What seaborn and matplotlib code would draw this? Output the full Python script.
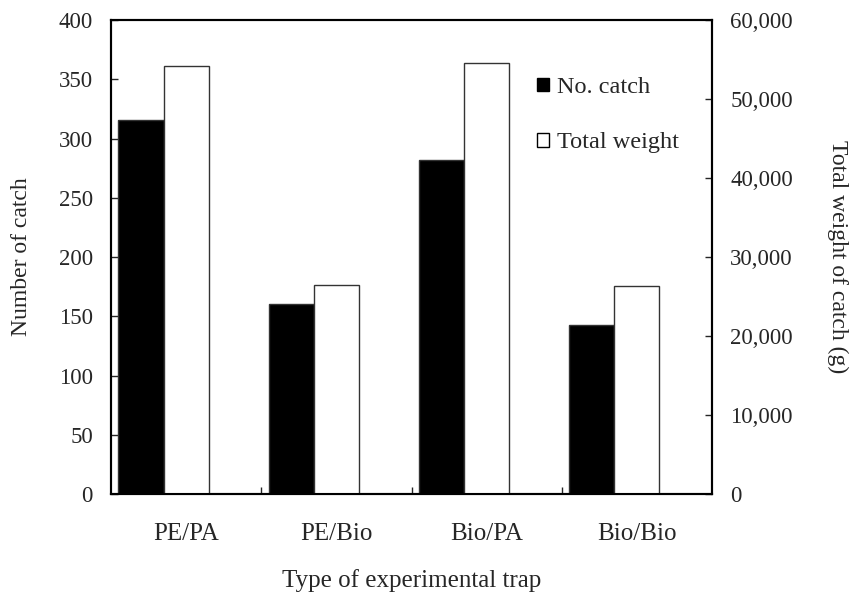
import pandas as pd
import matplotlib
matplotlib.use("Agg")
import matplotlib.pyplot as plt
from matplotlib.patches import Patch
from matplotlib.ticker import FuncFormatter, FixedLocator
import seaborn as sns

traps = ["PE/PA", "PE/Bio", "Bio/PA", "Bio/Bio"]
no_catch = [316, 160, 282, 143]
total_weight = [54200, 26500, 54500, 26350]
series = ["No. catch", "Total weight", " "]

sns.set_style("white")
plt.rcParams["font.family"] = ["Liberation Serif", "DejaVu Serif"]
plt.rcParams["font.size"] = 17

df_catch = pd.DataFrame({"trap": traps, "value": no_catch, "series": "No. catch"})
df_weight = pd.DataFrame({"trap": traps, "value": total_weight, "series": "Total weight"})
palette = {"No. catch": "black", "Total weight": "white", " ": "white"}

fig = plt.figure(figsize=(8.6, 5.92), dpi=100)
ax = fig.add_axes([0.129, 0.1655, 0.699, 0.8007])
ax2 = ax.twinx()

sns.barplot(data=df_catch, x="trap", y="value", hue="series", hue_order=series,
            palette=palette, width=0.9, dodge=True, edgecolor="#333333", linewidth=1,
            legend=False, ax=ax)
sns.barplot(data=df_weight, x="trap", y="value", hue="series", hue_order=series,
            palette=palette, width=0.9, dodge=True, edgecolor="#333333", linewidth=1,
            legend=False, ax=ax2)

ax.set_xlim(-0.5, 3.5)
ax.set_ylim(0, 400)
ax2.set_ylim(0, 60000)
ax.set_yticks(range(0, 401, 50))
ax2.set_yticks(range(0, 60001, 10000))
ax2.yaxis.set_major_formatter(FuncFormatter(lambda v, p: f"{int(v):,}"))

ax.set_xlabel("Type of experimental trap", labelpad=17, fontsize=18)
ax.set_ylabel("Number of catch", labelpad=19, fontsize=17)
ax2.set_ylabel("Total weight of catch (g)", rotation=270, labelpad=40, fontsize=17)

ax.tick_params(axis="x", which="major", length=0, pad=21, labelsize=18)
ax.xaxis.set_minor_locator(FixedLocator([0.5, 1.5, 2.5]))
ax.tick_params(axis="x", which="minor", direction="in", length=5, width=1, bottom=True)
ax.tick_params(axis="y", direction="in", length=5, width=1, left=True, pad=13, labelsize=16.5)
ax2.tick_params(axis="y", direction="in", length=5, width=1, right=True, pad=13, labelsize=16.5)

for a in (ax, ax2):
    for s in a.spines.values():
        s.set_color("black")
        s.set_linewidth(1.5)

handles = [Patch(facecolor="black", edgecolor="black", label="No. catch"),
           Patch(facecolor="white", edgecolor="black", label="Total weight")]
ax2.legend(handles=handles, loc="upper left", bbox_to_anchor=(0.689, 0.905),
           frameon=False, borderpad=0, labelspacing=1.4, handlelength=0.5,
           handleheight=0.5, handletextpad=0.3, fontsize=17.5)

fig.savefig("out.png", dpi=100)
